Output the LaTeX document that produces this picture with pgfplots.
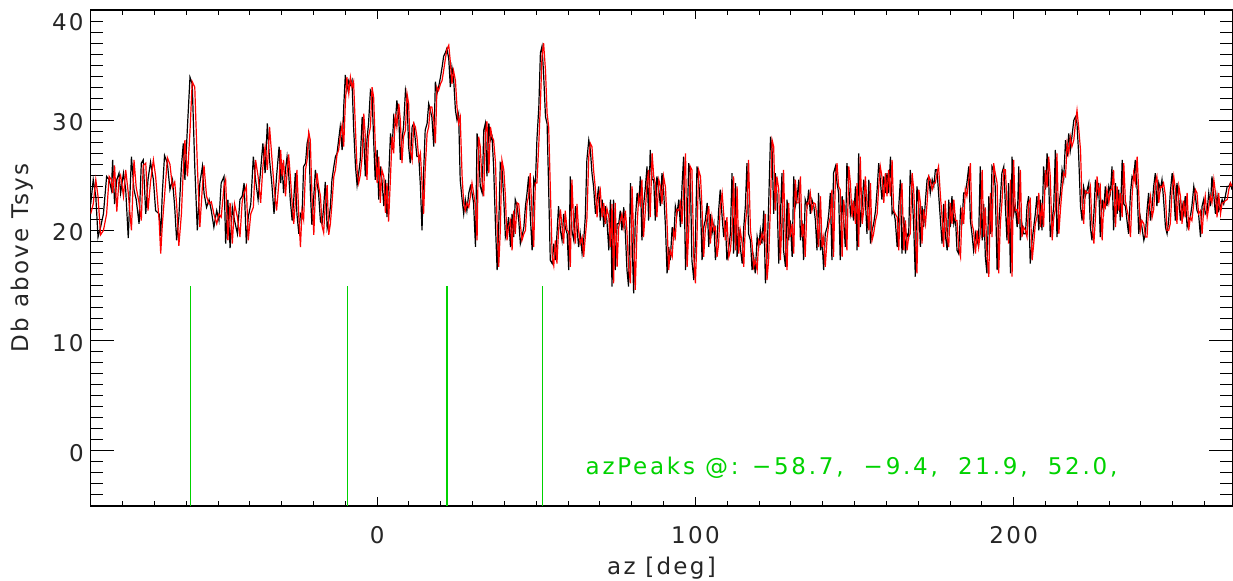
\documentclass[border=0pt]{standalone}
\usepackage{fontspec}
\setmainfont[LetterSpace=10]{DejaVu Sans}
\newfontfamily\peakfont[LetterSpace=12]{DejaVu Sans}
\usepackage{pgfplots}
\usepackage{pgfplotstable}
\pgfplotsset{compat=1.18}
\definecolor{peakgreen}{RGB}{0,210,0}
\newcommand\lbl{\fontsize{11.5pt}{14pt}\selectfont}

% az, black trace, red trace (dB above Tsys)
\pgfplotstableread{
az black red
-90.0 22.4 21.5
-89.2 24.6 22.4
-88.4 23.1 24.6
-87.7 19.4 23.1
-86.9 20.3 19.6
-86.0 21.5 20.0
-85.0 24.9 21.5
-84.2 24.6 24.9
-83.5 23.7 24.6
-83.1 26.4 23.4
-82.5 22.4 25.9
-81.8 24.6 21.7
-81.1 25.2 24.6
-80.6 23.4 25.0
-79.7 25.2 23.1
-79.0 23.7 25.5
-78.2 19.3 23.4
-77.2 26.7 20.0
-76.4 23.7 26.4
-75.7 22.8 23.9
-74.8 20.6 22.5
-74.1 26.1 20.9
-73.5 26.4 25.9
-72.7 21.5 26.1
-72.0 24.6 21.8
-71.2 26.2 24.4
-70.3 24.6 26.4
-69.6 21.8 24.9
-68.5 21.5 20.9
-68.0 19.5 17.9
-67.5 23.4 20.5
-66.8 26.8 23.1
-65.9 26.1 26.6
-65.1 23.7 26.0
-64.3 24.6 23.9
-63.6 22.1 24.4
-63.0 19.1 22.4
-62.3 21.2 18.6
-61.5 25.8 21.5
-60.9 27.9 25.5
-60.4 24.6 28.2
-59.6 29.4 24.9
-58.8 33.9 29.0
-58.1 33.3 33.5
-57.3 25.8 33.0
-56.5 20.0 26.0
-55.7 24.3 20.3
-54.9 25.8 24.0
-54.4 23.4 25.9
-53.6 22.1 23.1
-52.8 22.8 22.4
-52.1 21.8 22.6
-51.3 20.3 21.5
-50.4 21.8 20.6
-49.7 20.9 21.5
-49.0 24.3 21.2
-48.1 24.9 24.0
-47.6 18.8 24.6
-46.9 22.8 19.1
-46.2 18.4 22.5
-45.5 22.1 18.8
-44.8 20.9 22.4
-43.9 19.7 21.2
-43.1 22.8 19.4
-42.4 23.1 22.6
-41.8 24.3 23.4
-41.1 18.8 24.0
-40.5 21.2 19.1
-39.7 22.4 21.5
-38.9 26.7 22.1
-38.2 24.6 26.4
-37.4 22.8 24.9
-36.6 25.5 22.5
-35.9 27.9 25.8
-35.2 25.2 27.6
-34.5 29.7 25.5
-33.8 26.4 29.4
-33.1 24.3 26.7
-32.4 21.5 24.0
-31.6 24.9 21.8
-30.8 27.6 24.6
-30.3 24.3 27.3
-29.9 26.1 24.9
-29.4 23.4 26.4
-28.8 25.5 23.1
-28.3 26.7 25.2
-27.8 25.2 26.9
-27.3 22.8 25.0
-26.7 20.9 22.5
-26.2 22.8 20.6
-25.7 25.2 22.5
-25.2 21.5 25.5
-24.6 19.7 21.2
-24.1 21.5 18.5
-23.6 21.2 21.8
-23.1 25.8 21.0
-22.5 26.1 25.5
-22.0 27.9 26.4
-21.5 28.6 28.9
-21.0 23.7 28.2
-20.5 20.5 23.4
-19.9 23.1 19.6
-19.4 25.5 23.4
-18.9 24.3 25.2
-18.4 23.4 24.0
-17.8 20.8 23.1
-17.3 20.6 20.4
-16.8 22.1 19.8
-16.3 24.4 22.4
-15.7 20.2 24.1
-15.2 20.9 19.6
-14.7 22.1 20.6
-14.2 24.6 22.4
-13.6 25.8 24.9
-13.1 26.7 25.5
-12.6 27.0 26.9
-12.1 28.2 27.3
-11.6 29.4 28.5
-11.0 27.3 29.6
-10.5 31.2 27.6
-10.0 34.1 31.5
-9.5 32.7 33.9
-8.9 33.6 32.4
-8.4 33.2 33.9
-7.9 33.6 33.0
-7.4 29.4 33.5
-6.8 25.8 29.1
-6.3 24.1 25.5
-5.8 25.2 24.3
-5.3 26.4 25.0
-4.7 30.3 26.7
-4.2 28.2 30.6
-3.7 24.9 28.5
-3.2 28.2 24.6
-2.7 29.7 28.5
-2.1 32.7 29.4
-1.6 32.4 33.0
-1.1 28.2 32.1
-0.6 24.6 27.9
0.0 27.3 24.3
0.5 22.8 26.7
1.0 25.8 22.5
1.5 24.6 25.5
2.1 22.2 24.9
2.6 24.6 21.6
3.1 21.2 24.3
3.6 24.6 20.8
4.2 28.8 24.9
4.7 27.3 28.5
5.2 30.3 27.0
5.7 29.7 30.6
6.2 31.8 29.4
6.8 30.3 31.5
7.3 26.4 30.0
7.8 28.2 26.1
8.3 29.4 28.5
8.9 32.7 29.1
9.4 31.8 32.4
9.9 27.6 31.5
10.4 26.1 27.3
11.0 29.4 26.4
11.5 29.7 29.7
12.0 28.2 29.4
12.5 26.7 28.5
13.1 26.7 26.4
13.6 24.0 27.0
14.1 20.0 24.3
14.6 25.2 21.5
15.1 29.1 25.5
15.7 29.7 28.8
16.2 31.5 29.4
16.7 30.9 31.2
17.2 30.3 31.2
17.8 27.6 30.0
18.3 33.5 27.9
18.8 32.4 33.0
19.3 33.0 32.7
19.9 33.9 33.3
20.4 34.8 33.6
20.9 35.8 34.5
21.4 36.1 35.5
21.9 36.5 36.4
22.5 35.6 36.8
23.0 33.0 35.3
23.5 34.8 33.3
24.0 33.9 34.5
24.6 30.9 33.6
25.1 30.0 31.2
25.6 30.6 29.7
26.1 24.6 30.3
26.7 22.8 24.9
27.2 21.5 22.5
27.7 22.8 21.8
28.2 21.8 22.5
28.8 23.4 22.1
29.3 24.0 23.1
29.8 23.4 24.3
30.3 22.5 23.4
30.9 18.5 22.2
31.4 28.8 19.1
31.9 27.3 28.5
32.4 24.0 27.6
33.0 23.4 24.3
33.5 29.1 23.1
34.0 29.7 28.8
34.5 24.9 29.9
35.1 29.7 25.2
35.6 28.2 29.4
36.1 28.5 28.5
36.6 25.8 28.2
37.2 20.3 26.1
37.7 16.4 20.6
38.2 20.3 16.7
38.7 26.1 20.0
39.2 25.8 26.4
39.8 22.8 25.5
40.3 19.4 23.1
40.8 20.0 19.1
41.3 21.2 20.3
41.9 18.5 20.9
42.4 21.5 18.2
42.9 19.4 21.8
43.4 22.8 19.7
44.0 22.2 22.5
44.5 20.9 22.4
45.0 18.8 20.6
45.5 19.4 19.1
46.1 20.3 19.7
46.6 22.2 20.0
47.1 23.4 22.5
47.6 24.9 23.1
48.1 21.5 25.2
48.7 18.2 21.2
49.2 24.6 18.5
49.7 24.0 24.3
50.2 28.2 24.3
50.8 31.2 27.9
51.3 36.1 31.5
51.8 36.7 35.8
52.3 34.2 37.0
52.9 30.3 34.5
53.4 29.7 30.6
53.9 23.7 29.4
54.4 17.3 24.0
55.0 17.0 17.6
55.5 18.8 16.8
56.0 17.3 19.1
56.5 19.7 17.0
57.0 22.2 20.0
57.6 20.0 21.9
58.1 19.1 20.3
58.6 21.5 18.8
59.1 20.3 21.8
59.7 19.7 20.0
60.2 16.4 19.9
60.7 24.9 16.7
61.2 20.0 24.6
61.8 19.1 20.3
62.3 22.2 18.8
62.8 20.3 22.4
63.3 18.5 20.0
63.8 19.7 18.8
64.4 17.9 19.4
64.9 19.1 17.6
65.4 21.2 19.4
65.9 26.4 21.0
66.5 28.2 26.7
67.0 27.3 27.9
67.5 25.2 27.6
68.0 24.0 25.5
68.6 21.5 23.7
69.1 22.8 21.2
69.6 24.0 23.1
70.1 20.9 23.7
70.7 22.8 21.2
71.2 20.3 22.5
71.7 22.2 20.6
72.2 20.9 22.0
72.8 18.2 21.2
73.3 22.8 18.5
73.8 14.9 22.4
74.3 22.8 15.2
74.8 16.4 22.5
75.4 20.6 16.7
75.9 20.6 20.3
76.4 21.8 20.9
76.9 20.0 21.5
77.5 22.1 20.3
78.0 19.7 21.8
78.5 16.4 19.9
79.0 14.9 16.7
79.6 24.3 15.2
80.1 19.1 24.0
80.6 14.3 19.4
81.1 20.9 14.6
81.7 23.4 20.6
82.2 22.2 23.1
82.7 24.9 22.4
83.2 19.1 24.6
83.7 22.2 19.4
84.3 24.0 21.9
84.8 25.8 24.3
85.3 20.9 25.5
85.8 27.3 21.2
86.4 24.6 27.0
86.9 24.6 24.9
87.4 20.9 24.3
87.9 24.9 21.2
88.5 23.7 24.6
89.0 22.2 24.0
89.5 25.2 22.4
90.0 23.7 24.9
90.6 20.3 23.9
91.1 16.1 20.6
91.6 18.5 16.4
92.1 17.3 18.2
92.7 20.3 17.6
93.2 19.1 20.0
93.7 22.2 19.4
94.2 21.5 21.9
94.8 22.8 21.8
95.3 20.3 22.5
95.8 24.0 20.6
96.3 26.7 23.7
96.9 16.4 27.0
97.4 20.3 16.7
97.9 26.1 20.0
98.4 25.2 25.8
98.9 17.3 25.5
99.5 15.5 17.6
100.0 19.1 15.2
100.5 25.8 19.4
101.0 24.6 25.5
101.6 22.2 24.9
102.1 17.3 21.9
102.6 20.3 17.6
103.1 20.9 20.0
103.7 22.5 21.2
104.2 18.5 22.2
104.7 21.5 18.8
105.2 19.7 21.2
105.8 20.6 20.0
106.3 17.3 20.3
106.8 19.1 17.6
107.3 21.8 18.8
107.8 23.7 22.1
108.4 21.2 23.4
108.9 19.4 21.5
109.4 20.9 19.1
109.9 17.3 21.2
110.5 18.5 17.6
111.0 19.7 18.2
111.5 25.2 20.0
112.0 17.9 24.9
112.6 24.3 18.2
113.1 17.6 24.0
113.6 20.3 17.9
114.1 18.5 20.0
114.7 17.0 18.8
115.2 20.3 16.7
115.7 22.2 20.6
116.2 26.1 21.9
116.7 19.7 26.4
117.3 19.1 20.0
117.8 16.4 18.8
118.3 17.6 16.7
118.8 16.1 17.3
119.4 19.4 16.4
119.9 18.5 19.1
120.4 20.0 18.8
120.9 18.8 19.7
121.5 21.8 19.1
122.0 15.2 21.5
122.5 17.6 15.5
123.0 22.2 17.3
123.6 28.5 22.5
124.1 27.3 28.2
124.6 21.5 27.6
125.1 25.2 21.8
125.6 23.4 24.9
126.2 17.0 23.7
126.7 21.2 17.3
127.2 25.2 20.9
127.7 18.2 25.5
128.3 16.7 18.5
128.8 22.8 16.4
129.3 19.1 22.5
129.8 20.9 19.4
130.4 17.6 20.6
130.9 24.9 17.9
131.4 22.2 24.6
131.9 22.8 22.5
132.5 24.6 22.5
133.0 19.1 24.9
133.5 20.9 19.4
134.0 17.3 20.6
134.5 22.8 17.6
135.1 22.2 22.5
135.6 23.7 22.4
136.1 21.5 23.4
136.6 22.8 21.8
137.2 22.2 22.5
137.7 20.9 22.4
138.2 18.2 21.2
138.7 23.4 18.5
139.3 18.2 23.1
139.8 19.1 18.5
140.3 16.4 19.4
140.8 19.7 16.7
141.4 20.3 19.4
141.9 21.5 20.6
142.4 23.4 21.2
142.9 17.3 23.7
143.4 25.2 17.6
144.0 25.8 24.9
144.5 24.3 26.1
145.0 23.4 24.0
145.5 17.3 23.7
146.1 23.1 17.6
146.6 20.9 22.8
147.1 18.5 21.2
147.6 26.1 18.2
148.2 24.0 25.8
148.7 21.5 24.3
149.2 22.4 21.2
149.7 20.9 22.7
150.3 24.0 20.6
150.8 18.2 24.3
151.3 27.0 18.5
151.8 20.3 26.7
152.4 22.2 20.6
152.9 24.6 21.9
153.4 22.8 24.9
153.9 19.7 22.5
154.5 24.6 20.0
155.0 18.8 24.3
155.5 20.0 19.1
156.0 20.6 19.7
156.6 21.8 20.9
157.1 23.7 21.5
157.6 26.1 24.0
158.1 24.6 25.8
158.6 22.8 24.9
159.2 24.9 22.5
159.7 23.4 25.2
160.2 25.2 23.1
160.7 23.4 25.5
161.3 26.7 23.1
161.8 21.5 26.4
162.3 21.8 21.8
162.8 20.9 21.5
163.4 18.5 21.2
163.9 22.2 18.2
164.4 24.6 22.5
164.9 17.9 24.3
165.5 21.2 18.2
166.0 17.9 20.9
166.5 19.7 18.2
167.0 19.4 19.4
167.5 25.5 19.7
168.1 23.4 25.2
168.6 20.3 23.7
169.1 15.8 20.0
169.6 24.0 16.1
170.2 22.2 23.7
170.7 18.5 22.5
171.2 22.2 18.8
171.7 20.3 21.9
172.3 22.8 20.6
172.8 24.6 22.5
173.3 24.9 24.9
173.8 23.4 24.6
174.4 24.6 23.7
174.9 24.0 24.3
175.4 25.5 24.3
175.9 25.5 25.2
176.4 23.4 25.8
177.0 20.9 23.1
177.5 18.8 21.2
178.0 22.4 18.5
178.5 19.7 22.7
179.1 18.2 19.4
179.6 22.8 18.5
180.1 20.3 22.5
180.6 23.1 20.6
181.2 20.6 22.8
181.7 21.2 20.9
182.2 18.2 20.9
182.7 17.9 18.5
183.3 21.8 17.6
183.8 20.9 22.1
184.3 23.4 20.6
184.8 23.4 23.7
185.3 24.3 23.1
185.9 25.8 24.6
186.4 20.9 26.1
186.9 19.7 20.6
187.4 18.2 20.0
188.0 19.7 17.9
188.5 18.8 20.0
189.0 19.4 18.5
189.5 25.8 19.7
190.1 19.1 25.5
190.6 22.4 19.4
191.1 17.6 22.1
191.6 16.1 17.9
192.2 23.1 15.8
192.7 19.7 23.4
193.2 25.8 19.4
193.7 25.5 26.1
194.2 24.0 25.2
194.8 16.4 24.3
195.3 20.3 16.1
195.8 22.8 20.6
196.3 25.2 22.5
196.9 25.8 25.5
197.4 22.2 25.5
197.9 19.1 22.5
198.4 24.3 18.8
199.0 16.1 24.6
199.5 26.7 15.8
200.0 21.5 26.4
200.5 22.2 21.8
201.1 20.3 21.9
201.6 25.8 20.6
202.1 19.1 25.5
202.6 20.6 19.4
203.1 19.7 20.3
203.7 19.7 20.0
204.2 22.2 19.4
204.7 23.1 22.5
205.2 17.0 22.8
205.8 19.1 17.3
206.3 20.3 18.8
206.8 21.5 20.6
207.3 23.1 21.2
207.9 20.0 23.4
208.4 22.8 20.3
208.9 20.0 22.5
209.4 25.8 20.3
210.0 23.7 25.5
210.5 27.0 23.9
211.0 24.6 26.7
211.5 19.4 24.9
212.1 20.9 19.1
212.6 22.2 21.2
213.1 27.3 21.9
213.6 19.4 27.0
214.2 22.2 19.7
214.7 23.4 21.9
215.2 25.5 23.7
215.7 24.6 25.2
216.3 28.2 24.9
216.8 26.7 27.9
217.3 28.8 27.0
217.8 27.3 28.5
218.3 28.5 27.6
218.9 30.0 28.2
219.4 30.3 29.7
219.9 29.7 30.9
220.4 27.0 29.4
221.0 22.2 27.3
221.5 20.9 22.5
222.0 23.9 20.6
222.5 23.1 23.6
223.1 23.7 23.4
223.6 24.3 23.4
224.1 20.3 24.0
224.6 19.1 20.6
225.2 21.5 18.8
225.7 24.6 21.2
226.2 23.1 24.9
226.7 24.3 23.4
227.2 19.4 24.0
227.8 22.8 19.1
228.3 21.8 22.5
228.8 24.0 22.1
229.3 22.2 23.7
229.9 24.0 22.5
230.4 23.4 23.7
230.9 25.8 23.7
231.4 20.0 25.5
232.0 24.3 20.3
232.5 21.5 24.0
233.0 23.7 21.8
233.5 20.9 23.4
234.1 26.4 21.2
234.6 22.4 26.1
235.1 22.2 22.7
235.6 20.9 21.9
236.1 19.7 21.2
236.7 23.4 19.4
237.2 24.9 23.1
237.7 24.6 25.2
238.2 26.4 24.3
238.8 23.7 26.7
239.3 19.7 23.4
239.8 21.2 20.0
240.3 20.3 20.9
240.9 19.1 20.6
241.4 19.7 19.4
241.9 21.8 19.4
242.4 23.4 22.1
243.0 20.9 23.1
243.5 22.2 21.2
244.0 24.0 21.9
244.5 25.2 24.3
245.0 22.2 24.9
245.6 24.3 22.5
246.1 23.7 24.0
246.6 24.6 23.9
247.1 22.8 24.3
247.7 20.3 23.1
248.2 19.7 20.0
248.7 20.9 20.0
249.2 23.4 20.6
249.8 25.2 23.7
250.3 23.4 24.9
250.8 20.9 23.7
251.3 24.3 20.6
251.9 22.8 24.0
252.4 20.9 23.1
252.9 22.4 20.6
253.4 21.5 22.7
253.9 23.1 21.2
254.5 20.3 23.4
255.0 20.9 20.0
255.5 21.2 21.2
256.0 22.2 20.9
256.6 24.0 22.5
257.1 23.1 23.7
257.6 21.8 23.4
258.1 21.5 21.5
258.7 19.4 21.8
259.2 22.2 19.7
259.7 22.8 21.9
260.2 21.5 23.1
260.8 21.8 21.2
261.3 23.4 22.1
261.8 22.2 23.1
262.3 24.9 22.5
262.9 23.1 24.6
263.4 21.5 23.4
263.9 23.1 21.2
264.4 21.8 23.4
265.0 22.2 21.5
265.5 22.8 22.5
266.0 22.4 22.5
266.5 23.1 22.7
267.1 24.0 22.8
267.6 24.0 23.7
268.1 24.3 24.3
268.6 23.7 24.0
}\azdata

\begin{document}
\begin{tikzpicture}
\begin{axis}[
  scale only axis,
  width=570.8pt, height=248pt,
  xmin=-90, xmax=268.7,
  ymin=-5, ymax=40,
  xtick={0,100,200},
  minor xtick={-80,-70,...,260},
  ytick={0,10,20,30},
  extra y ticks={40},
  extra y tick style={yticklabel style={yshift=-5pt}},
  minor ytick={-4,-3,...,39},
  tick align=inside,
  axis line style={black, line width=0.6pt},
  xtick style={black, line width=0.5pt, /pgfplots/major tick length=4.7pt, /pgfplots/minor tick length=2.3pt},
  ytick style={black, line width=0.5pt, /pgfplots/major tick length=11.5pt, /pgfplots/minor tick length=6pt},
  /pgf/number format/assume math mode=true,
  tick label style={font=\lbl, text=black!85},
  xticklabel style={yshift=-6.5pt},
  yticklabel style={yshift=-1pt},
  xlabel={az [deg]},
  ylabel={Db above Tsys},
  label style={font=\lbl, text=black!85},
  xlabel style={at={(axis description cs:0.5,-0.139)}, anchor=base},
  ylabel style={at={(axis description cs:-0.0601,0.5)}, anchor=center},
]
\addplot[black, line width=0.6pt] table[x=az, y=black] {\azdata};
\addplot[red, line width=0.6pt] table[x=az, y=red] {\azdata};
\addplot[peakgreen, line width=0.7pt] coordinates {(-58.7,-5) (-58.7,15)};
\addplot[peakgreen, line width=0.7pt] coordinates {(-9.4,-5) (-9.4,15)};
\addplot[peakgreen, line width=0.7pt] coordinates {(21.9,-5) (21.9,15)};
\addplot[peakgreen, line width=0.7pt] coordinates {(52.0,-5) (52.0,15)};
\node[anchor=base west, text=peakgreen, font=\lbl\peakfont, inner sep=0pt] at (axis cs:65.4,-2.18)
  {azPeaks @: −58.7,\ \ −9.4,\ \ 21.9,\ \ 52.0,};
\end{axis}
\pgfresetboundingbox
\path[use as bounding box] (current axis.south west) ++(-45.35pt,-37.5pt) rectangle ([shift={(0.35pt,5pt)}]current axis.north east);
\end{tikzpicture}
\end{document}
